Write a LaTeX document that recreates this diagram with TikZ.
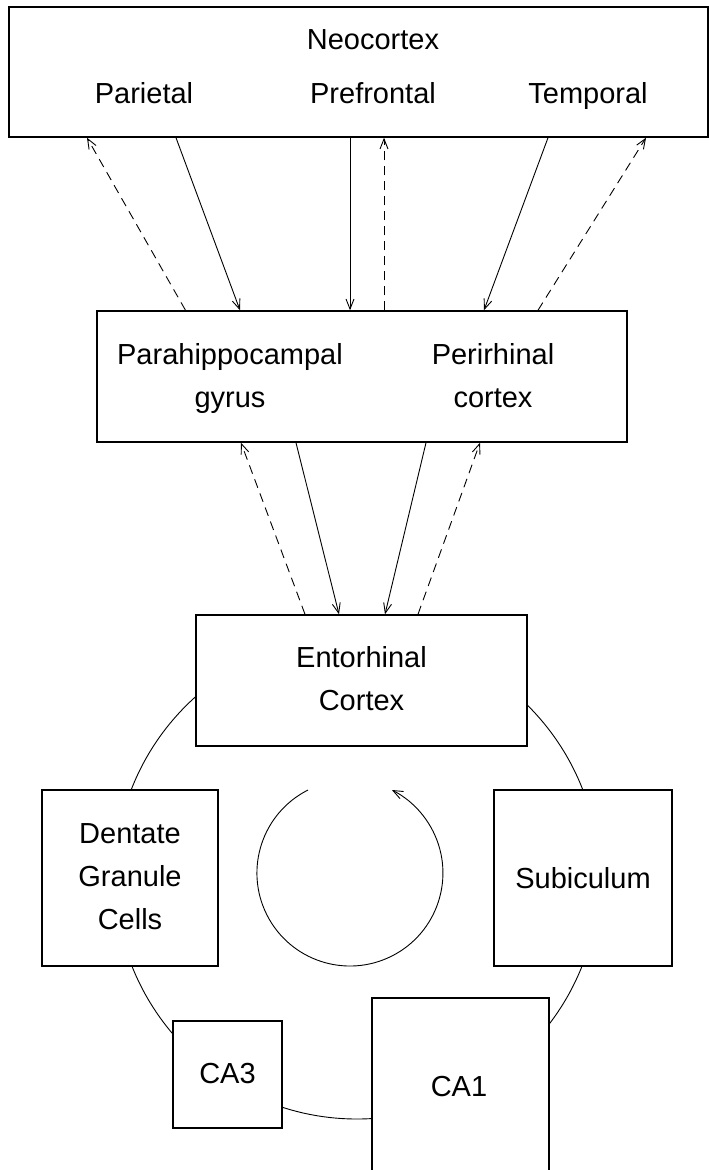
\documentclass[tikz,border=0pt]{standalone}
\usepackage{fontspec}
\setmainfont{Liberation Sans}
\usetikzlibrary{arrows.meta,calc}
\newcommand{\sline}[1]{\strut#1}
\begin{document}
\begin{tikzpicture}[x=1pt,y=1pt,
  box/.style={draw, fill=white, line width=1.5pt, inner sep=0pt, align=center,
    font=\fontsize{29}{43}\selectfont},
  lbl/.style={inner sep=0pt, align=center, font=\fontsize{29}{43}\selectfont},
  fwd/.style={line width=0.9pt, -{Straight Barb[length=10pt,width=8pt]}},
  back/.style={line width=0.9pt, dash pattern=on 9pt off 6pt, -{Straight Barb[length=10pt,width=8pt]}},
  loop/.style={line width=0.9pt}
]
\useasboundingbox (0,0) rectangle (709,-1170);
% the hippocampal loop (behind the boxes)
\draw[loop] (357,-877) circle[radius=242];
% boxes
\node[box, minimum width=699pt, minimum height=130pt] (neo) at (358.5,-72) {};
\node[box, minimum width=530pt, minimum height=131pt] (mid) at (362,-376.5) {};
\node[box, minimum width=331pt, minimum height=131pt] (ent) at (361.5,-680.5) {\sline{Entorhinal}\\\sline{Cortex}};
\node[box, minimum width=176pt, minimum height=176pt] (dg) at (130,-878) {\sline{Dentate}\\\sline{Granule}\\\sline{Cells}};
\node[box, minimum width=178pt, minimum height=176pt] (sub) at (583,-878) {};
\node[box, minimum width=109pt, minimum height=107pt] (ca3) at (227.5,-1074.5) {\sline{CA3}};
\node[box, minimum width=177pt, minimum height=184pt] (ca1box) at (460.5,-1090) {};
% labels
\node[lbl] (neoc) at (373,-41) {\sline{Neocortex}};
\node[lbl] (par) at (144,-95) {\sline{Parietal}};
\node[lbl] (pre) at (373,-95) {\sline{Prefrontal}};
\node[lbl] (tem) at (588,-95) {\sline{Temporal}};
\node[lbl] (phg) at (230,-377.5) {\sline{Parahippocampal}\\\sline{gyrus}};
\node[lbl] (per) at (493,-377.5) {\sline{Perirhinal}\\\sline{cortex}};
\node[lbl] (subl) at (583,-880) {\sline{Subiculum}};
\node[lbl] (ca1) at (459,-1088) {\sline{CA1}};
% neocortex <-> parahippocampal / perirhinal
\draw[back] (185.5,0 |- mid.north) -- (87,0 |- neo.south);
\draw[fwd]  (176,0 |- neo.south) -- (240,0 |- mid.north);
\draw[fwd]  (350,0 |- neo.south) -- (350,0 |- mid.north);
\draw[back] (384,0 |- mid.north) -- (384,0 |- neo.south);
\draw[fwd]  (548,0 |- neo.south) -- (484,0 |- mid.north);
\draw[back] (538,0 |- mid.north) -- (646,0 |- neo.south);
% parahippocampal / perirhinal <-> entorhinal
\draw[back] (305,0 |- ent.north) -- (241,0 |- mid.south);
\draw[fwd]  (296,0 |- mid.south) -- (339,0 |- ent.north);
\draw[fwd]  (426,0 |- mid.south) -- (385,0 |- ent.north);
\draw[back] (418,0 |- ent.north) -- (480,0 |- mid.south);
% circulation arrow
\draw[loop, -{Straight Barb[length=10pt,width=8pt]}] (308,-790) arc[start angle=116.8, end angle=423.2, radius=93];
\end{tikzpicture}
\end{document}
